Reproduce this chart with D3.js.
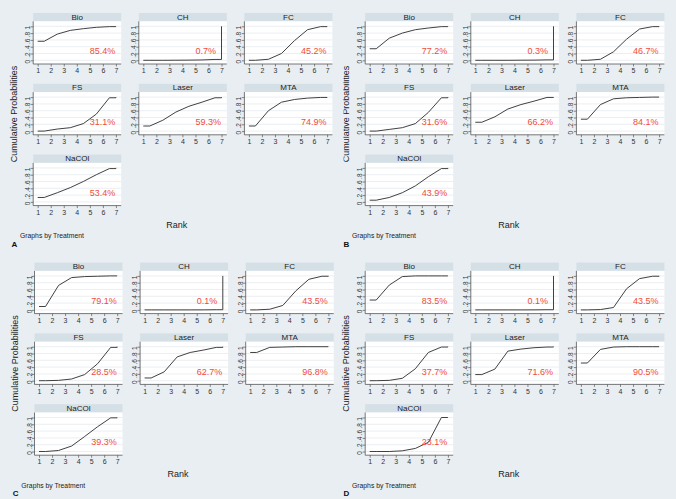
<!DOCTYPE html>
<html><head><meta charset="utf-8">
<script src="https://cdn.jsdelivr.net/npm/d3@7"></script>
<style>html,body{margin:0;padding:0;background:#e9eef2;}svg{display:block;font-family:"Liberation Sans",Arial,sans-serif;}</style>
</head><body>
<script>
// ---- data ----
const treatments = ["Bio","CH","FC","FS","Laser","MTA","NaCOl"];
const rankTicks = [1,2,3,4,5,6,7];
const yTickValues = [0,0.2,0.4,0.6,0.8,1];
const yTickLabels = ["0",".2",".4",".6",".8","1"];
const panelLetters = ["A","B","C","D"];

// cumulative probability of being at rank <= 1..7, per treatment (order as treatments)
const cumA = [
  [0.56,0.77,0.88,0.93,0.97,0.99,1],
  [0,0,0.002,0.005,0.01,0.025,1],
  [0,0.03,0.2,0.58,0.9,0.99,1],
  [0,0.06,0.1,0.22,0.5,0.98,1],
  [0.15,0.32,0.56,0.73,0.85,0.98,1],
  [0.15,0.6,0.85,0.93,0.97,0.99,1],
  [0.13,0.27,0.42,0.6,0.8,0.98,1]
];
const cumB = [
  [0.34,0.65,0.8,0.9,0.95,0.99,1],
  [0,0,0,0.003,0.005,0.012,1],
  [0,0.03,0.25,0.62,0.92,0.99,1],
  [0,0.05,0.1,0.22,0.55,0.98,1],
  [0.26,0.42,0.65,0.78,0.88,0.99,1],
  [0.35,0.78,0.95,0.98,0.99,1,1],
  [0.05,0.13,0.27,0.47,0.74,0.98,1]
];
const cumC = [
  [0.1,0.72,0.95,0.98,0.99,1,1],
  [0,0,0,0,0.001,0.005,1],
  [0,0.02,0.13,0.56,0.9,0.99,1],
  [0,0.01,0.05,0.18,0.5,0.98,1],
  [0.08,0.26,0.7,0.83,0.9,0.98,1],
  [0.83,0.98,0.99,1,1,1,1],
  [0,0.03,0.16,0.44,0.73,0.99,1]
];
const cumD = [
  [0.29,0.73,0.98,1,1,1,1],
  [0,0,0,0,0.001,0.005,1],
  [0,0.01,0.07,0.62,0.92,0.99,1],
  [0,0.01,0.07,0.35,0.83,0.99,1],
  [0.18,0.34,0.87,0.93,0.97,0.99,1],
  [0.52,0.92,0.99,1,1,1,1],
  [0,0,0.02,0.09,0.27,1,1]
];
const sucraA = ["85.4%","0.7%","45.2%","31.1%","59.3%","74.9%","53.4%"];
const sucraB = ["77.2%","0.3%","46.7%","31.6%","66.2%","84.1%","43.9%"];
const sucraC = ["79.1%","0.1%","43.5%","28.5%","62.7%","96.8%","39.3%"];
const sucraD = ["83.5%","0.1%","43.5%","37.7%","71.6%","90.5%","23.1%"];

const panels = [
  {letter:panelLetters[0], cum:cumA, sucra:sucraA, ox:0,   oy:0,     clipX:null},
  {letter:panelLetters[1], cum:cumB, sucra:sucraB, ox:332, oy:0,     clipX:343.5},
  {letter:panelLetters[2], cum:cumC, sucra:sucraC, ox:1.3, oy:249.6, clipX:null},
  {letter:panelLetters[3], cum:cumD, sucra:sucraD, ox:332, oy:249.6, clipX:null}
];

// ---- layout ----
const W = 676, H = 499;
const svg = d3.select("body").append("svg").attr("width",W).attr("height",H);
svg.append("rect").attr("width",W).attr("height",H).attr("fill","#e9eef2");

const colLeft = [33.2, 138.8, 244.4];   // white box left edges
const boxW = 88;
const rowTop = [13, 83.8, 154.6];       // strip tops
const stripH = 8.3, boxH = 42.7;
const lineGen = d3.line().x(d=>d[0]).y(d=>d[1]);

const defs = svg.append("defs");
panels.forEach((p,pi)=>{
  let g = svg.append("g").attr("transform",`translate(${p.ox},${p.oy})`);
  if (p.clipX !== null) {
    defs.append("clipPath").attr("id","clip"+pi).append("rect")
      .attr("x",p.clipX-p.ox).attr("y",0).attr("width",340).attr("height",250);
  }
  treatments.forEach((t,ti)=>{
    const col = ti%3, row = Math.floor(ti/3);
    const bx = colLeft[col], by = rowTop[row]+stripH;
    const x = d3.scaleLinear().domain([1,7]).range([bx+4.5, bx+boxW-5.3]);
    const y = d3.scaleLinear().domain([0,1]).range([by+39, by+5]);
    const cell = g.append("g");
    // strip
    cell.append("rect").attr("x",bx).attr("y",rowTop[row]).attr("width",boxW).attr("height",stripH)
      .attr("fill","#d5dfe6");
    cell.append("text").attr("x",bx+boxW/2).attr("y",rowTop[row]+stripH/2+0.3)
      .attr("text-anchor","middle").attr("dominant-baseline","middle")
      .attr("font-size",8).attr("fill","#222").text(t);
    // plot box
    cell.append("rect").attr("x",bx).attr("y",by).attr("width",boxW).attr("height",boxH).attr("fill","#fff");
    // grid
    cell.selectAll("line.grid").data(yTickValues).enter().append("line")
      .attr("x1",bx).attr("x2",bx+boxW).attr("y1",d=>y(d)).attr("y2",d=>y(d))
      .attr("stroke","#e6ebef").attr("stroke-width",0.8);
    // y axis
    const ya = cell.append("g").attr("transform",`translate(${bx},0)`)
      .call(d3.axisLeft(y).tickValues(yTickValues).tickSize(2.5).tickPadding(1.5)
        .tickFormat((d,i)=>yTickLabels[i]));
    ya.select(".domain").attr("stroke","#555").attr("stroke-width",0.8).attr("d",`M0,${by}V${by+boxH}`);
    ya.selectAll(".tick line").attr("stroke","#555").attr("stroke-width",0.7);
    ya.selectAll(".tick text").attr("font-size",6.5).attr("fill","#333")
      .attr("transform",function(d){return `rotate(-90,${-5},${0})`;})
      .attr("x",-6).attr("dy","0.32em").attr("text-anchor","middle")
      .attr("font-family","Liberation Sans, Arial, sans-serif");
    // x axis
    const xa = cell.append("g").attr("transform",`translate(0,${by+boxH})`)
      .call(d3.axisBottom(x).tickValues(rankTicks).tickSize(2.5).tickPadding(1.8).tickFormat(d3.format("d")));
    xa.select(".domain").attr("stroke","#555").attr("stroke-width",0.8).attr("d",`M${bx},0H${bx+boxW}`);
    xa.selectAll(".tick line").attr("stroke","#555").attr("stroke-width",0.7);
    xa.selectAll(".tick text").attr("font-size",7).attr("fill","#333")
      .attr("font-family","Liberation Sans, Arial, sans-serif");
    // curve
    const c = p.cum[ti];
    const pts = [[1,c[0]],[1.5,c[0]],[2.5,c[1]],[3.5,c[2]],[4.5,c[3]],[5.5,c[4]],[6.5,c[5]],[7,c[5]],[7,c[6]]]
      .map(d=>[x(d[0]),y(d[1])]);
    cell.append("path").attr("d",lineGen(pts)).attr("fill","none")
      .attr("stroke","#2b2b2b").attr("stroke-width",0.9);
    // sucra text
    cell.append("text").attr("x",x(5)).attr("y",y(0.25))
      .attr("dominant-baseline","middle").attr("font-size",9).attr("fill","#ef4c3c")
      .text(p.sucra[ti]);
  });
  // axis titles
  g.append("text").attr("x",176.7).attr("y",227.5).attr("text-anchor","middle")
    .attr("font-size",9).attr("fill","#222").text("Rank");
  const ytg = g.append("g");
  if (p.clipX !== null) ytg.attr("clip-path",`url(#clip${pi})`);
  ytg.append("text").attr("transform","translate(16.5,114) rotate(-90)")
    .attr("text-anchor","middle").attr("font-size",9).attr("fill","#222").text("Cumulative Probabilities");
  g.append("text").attr("x",20).attr("y",238.2).attr("font-size",6.8).attr("fill","#222").text("Graphs by Treatment");
  g.append("text").attr("x",11.5).attr("y",246.5).attr("font-size",8).attr("font-weight","bold").attr("fill","#111").text(p.letter);
});
</script>
</body></html>
